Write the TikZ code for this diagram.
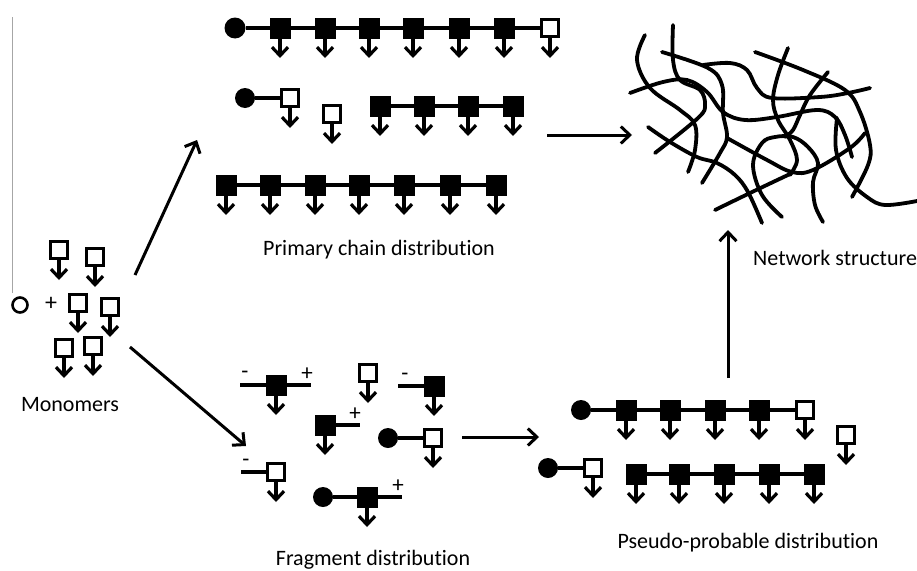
\documentclass[tikz,border=0pt]{standalone}
\usepackage{fontspec}
\setmainfont[Ligatures={NoCommon,NoContextual}]{Carlito}
\usetikzlibrary{arrows.meta}
\begin{document}
\begin{tikzpicture}[x=1pt,y=-1pt,
  sqf/.style={draw,fill=black,line width=1pt,minimum size=20pt,inner sep=0pt,outer sep=0pt},
  sqo/.style={draw,fill=white,line width=3pt,minimum size=17pt,inner sep=0pt,outer sep=0pt},
  ball/.style={circle,fill=black,minimum size=21pt,inner sep=0pt,outer sep=0pt},
  ring/.style={circle,draw,line width=2.6pt,minimum size=15pt,inner sep=0pt},
  bond/.style={line width=3.2pt},
  pend/.style={line width=3.2pt,-{Straight Barb[length=8.5pt,width=16pt]}},
  flow/.style={line width=3pt,-{Straight Barb[length=9pt,width=17pt]}},
  fiber/.style={line width=3.8pt,line cap=round,line join=round},
  caption/.style={font=\fontsize{22}{26}\selectfont,inner sep=0pt},
  charge/.style={font=\fontsize{23}{25}\selectfont,inner sep=0pt},
  funit/.pic={\node[sqf] (-sq) at (0,0) {}; \coordinate (-tip) at (0,30);
              \draw[pend] (-sq.south) -- (-tip);},
  ounit/.pic={\node[sqo] (-sq) at (0,0) {}; \coordinate (-tip) at (0,30);
              \draw[pend] (-sq.south) -- (-tip);},
]
\useasboundingbox (0,0) rectangle (917,570);

% ---------- monomers ----------
\coordinate (rule0) at (12,17);
\coordinate (rule1) at (12,293);
\draw[gray!70,line width=0.9pt] (rule0) -- (rule1);
\node[ring] (m0) at (20,305) {};
\node[font=\fontsize{24}{26}\selectfont,inner sep=0pt] (plus) at (51,304) {+};
\pic (m1) at (59,250) {ounit};
\pic (m2) at (95,257) {ounit};
\pic (m3) at (78,303) {ounit};
\pic (m4) at (110,307) {ounit};
\pic (m5) at (64,348) {ounit};
\pic (m6) at (93,346) {ounit};
\node[caption] (cap0) at (70,405) {Monomers};

% ---------- primary chains ----------
\node[ball] (p0) at (235,28) {};
\foreach \x [count=\i] in {280,325,369,413,459,504}
  \pic (p\i) at (\x,28) {funit};
\pic (p7) at (550,28) {ounit};
\draw[bond] (p0) -- (p1-sq) -- (p2-sq) -- (p3-sq) -- (p4-sq) -- (p5-sq) -- (p6-sq) -- (p7-sq);

\node[ball,minimum size=20pt] (q0) at (245,98) {};
\pic (q1) at (290,98) {ounit};
\draw[bond] (q0) -- (q1-sq);
\pic (q2) at (332,114) {ounit};
\foreach \x [count=\i from 3] in {380,424,468,513}
  \pic (q\i) at (\x,106) {funit};
\draw[bond] (q3-sq) -- (q4-sq) -- (q5-sq) -- (q6-sq);

\foreach \x [count=\i] in {226,270,315,359,404,450,496}
  \pic (r\i) at (\x,185) {funit};
\draw[bond] (r1-sq) -- (r2-sq) -- (r3-sq) -- (r4-sq) -- (r5-sq) -- (r6-sq) -- (r7-sq);

\node[caption] (cap1) at (379,250) {Primary chain distribution};

% ---------- fragments ----------
\pic (f1) at (276,385) {funit};
\coordinate (f1l) at (240,385); \coordinate (f1r) at (311,385);
\draw[bond] (f1l) -- (f1-sq) -- (f1r);
\node[charge] (f1m) at (245,375) {-};
\node[charge] (f1p) at (307,374) {+};

\pic (f2) at (368,373) {ounit};

\pic (f3) at (434,386) {funit};
\coordinate (f3l) at (398,386);
\draw[bond] (f3l) -- (f3-sq);
\node[charge] (f3m) at (405,377) {-};

\pic (f4) at (325,425) {funit};
\coordinate (f4r) at (360,425);
\draw[bond] (f4-sq) -- (f4r);
\node[charge] (f4p) at (355,414) {+};

\node[ball,minimum size=20pt] (f5b) at (388,438) {};
\pic (f5) at (433,438) {ounit};
\draw[bond] (f5b) -- (f5-sq);

\pic (f6) at (276,472) {ounit};
\coordinate (f6l) at (241,472);
\draw[bond] (f6l) -- (f6-sq);
\node[charge] (f6m) at (246,463) {-};

\node[ball,minimum size=20pt] (f7b) at (323,497) {};
\pic (f7) at (367,497) {funit};
\coordinate (f7r) at (402,497);
\draw[bond] (f7b) -- (f7-sq) -- (f7r);
\node[charge] (f7p) at (398,486) {+};

\node[caption] (cap2) at (373,560) {Fragment distribution};

% ---------- pseudo-probable chains ----------
\node[ball,minimum size=20pt] (s0) at (581,410) {};
\foreach \x [count=\i] in {626,670,715,759}
  \pic (s\i) at (\x,410) {funit};
\pic (s5) at (805,410) {ounit};
\draw[bond] (s0) -- (s1-sq) -- (s2-sq) -- (s3-sq) -- (s4-sq) -- (s5-sq);

\pic (s6) at (846,435) {ounit};

\node[ball,minimum size=20pt] (u0) at (548,468) {};
\pic (u1) at (593,468) {ounit};
\draw[bond] (u0) -- (u1-sq);
\foreach \x [count=\i from 2] in {636,679,724,769,814}
  \pic (u\i) at (\x,474) {funit};
\draw[bond] (u2-sq) -- (u3-sq) -- (u4-sq) -- (u5-sq) -- (u6-sq);

\node[caption] (cap3) at (748,543) {Pseudo-probable distribution};

% ---------- network ----------
\draw[fiber] plot[smooth,tension=0.6] coordinates {(645,35) (637,60) (650,88) (680,110) (695,125) (695,150) (688,172)};
\draw[fiber] plot[smooth,tension=0.6] coordinates {(673,25) (673,60) (680,80) (700,90) (705,105) (698,118) (655,153)};
\draw[fiber] plot[smooth,tension=0.6] coordinates {(630,93) (663,82) (687,80) (707,92) (723,112) (745,120) (777,117) (817,110) (835,117) (845,135) (852,157)};
\draw[fiber] plot[smooth,tension=0.6] coordinates {(662,52) (708,68) (722,85) (723,113) (727,137) (720,153) (702,183)};
\draw[fiber] plot[smooth,tension=0.6] coordinates {(703,65) (730,63) (747,70) (757,88) (772,98) (820,97) (848,93) (870,88)};
\draw[fiber] plot[smooth,tension=0.6] coordinates {(648,127) (670,142) (697,157) (717,163) (735,175) (748,192) (762,223)};
\draw[fiber] plot[smooth,tension=0.6] coordinates {(727,138) (767,160) (792,172) (813,170) (850,148) (865,133)};
\draw[fiber] plot[smooth,tension=0.6] coordinates {(715,210) (750,193) (790,174)};
\draw[fiber] plot[smooth,tension=0.6] coordinates {(782,217) (762,195) (753,165) (762,143) (775,137) (793,137) (808,147) (818,163) (813,182) (815,205) (823,222)};
\draw[fiber] plot[smooth,tension=0.6] coordinates {(788,48) (778,75) (773,100) (778,120) (790,140) (797,160) (790,175)};
\draw[fiber] plot[smooth,tension=0.6] coordinates {(755,52) (803,70) (845,90) (860,112) (870,145) (868,165) (852,197)};
\draw[fiber] plot[smooth,tension=0.6] coordinates {(828,72) (810,95) (800,115) (793,130) (785,137)};
\draw[fiber] plot[smooth,tension=0.6] coordinates {(837,118) (836,150) (847,178) (867,197) (885,205) (917,201)};
\node[caption,anchor=west] (cap4) at (753,258) {Network structure};

% ---------- process arrows ----------
\coordinate (a1s) at (135,275); \coordinate (a1e) at (197,140);
\coordinate (a2s) at (130,347); \coordinate (a2e) at (246,446);
\coordinate (a3s) at (547,135); \coordinate (a3e) at (632,135);
\coordinate (a4s) at (462,437); \coordinate (a4e) at (539,437);
\coordinate (a5s) at (728,378); \coordinate (a5e) at (728,230);
\draw[flow] (a1s) -- (a1e);
\draw[flow] (a2s) -- (a2e);
\draw[flow] (a3s) -- (a3e);
\draw[flow] (a4s) -- (a4e);
\draw[flow] (a5s) -- (a5e);
\end{tikzpicture}
\end{document}
